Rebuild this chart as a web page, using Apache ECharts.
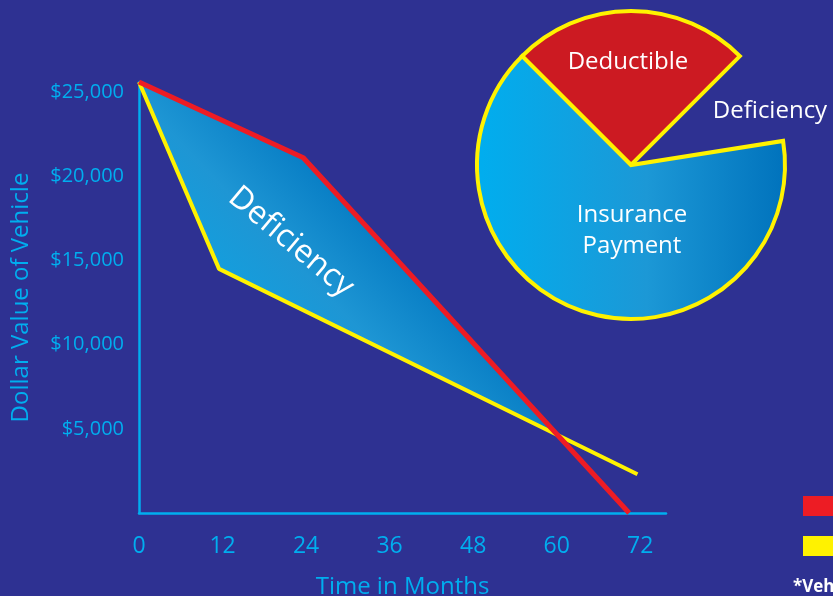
<!DOCTYPE html>
<html>
<head>
<meta charset="utf-8">
<script src="https://cdn.jsdelivr.net/npm/echarts@6/dist/echarts.min.js"></script>
<style>
html,body{margin:0;padding:0;background:#2E3192;}
#chart{width:833px;height:596px;}
</style>
</head>
<body>
<div id="chart"></div>
<script>
// ---- data ----
const xTicks = [0, 12, 24, 36, 48, 60, 72];
const yTicks = [5000, 10000, 15000, 20000, 25000];
const loanBalance = [[0, 25600], [23.6, 21100], [70.4, 0]];      // red
const vehicleValue = [[0, 25600], [11.5, 14500], [71.6, 2300]];   // yellow
const pieNames = ['Deductible', 'Deficiency', 'Insurance Payment'];
const pieValues = [25, 10, 65];
const legendNames = ['Loan Balance', 'Vehicle Value*'];

const FONT = '"Open Sans", "Noto Sans", sans-serif';
const CYAN = '#00AEEF';
const RED = '#ED1C24';
const YELLOW = '#FFF200';

function intersect(a, b, c, d) {
  const den = (a[0]-b[0])*(c[1]-d[1]) - (a[1]-b[1])*(c[0]-d[0]);
  const t = ((a[0]-c[0])*(c[1]-d[1]) - (a[1]-c[1])*(c[0]-d[0])) / den;
  return [a[0] + t*(b[0]-a[0]), a[1] + t*(b[1]-a[1])];
}

const pieStyles = [
  { color: '#CC1A22' },
  { color: 'rgba(0,0,0,0)', borderWidth: 0 },
  {
    color: new echarts.graphic.LinearGradient(0, 0, 1, 0, [
      { offset: 0, color: '#00AEEF' },
      { offset: 0.55, color: '#1C98D6' },
      { offset: 1, color: '#0072BC' }
    ])
  }
];

const chart = echarts.init(document.getElementById('chart'));
const option = {
  backgroundColor: '#2E3192',
  animation: false,
  grid: { left: 139, right: 167, top: 82, bottom: 83, containLabel: false, outerBoundsMode: 'none' },
  legend: {
    orient: 'vertical', left: 803, top: 496, padding: 0,
    itemWidth: 40, itemHeight: 20, itemGap: 20, icon: 'rect',
    data: legendNames,
    textStyle: { color: '#fff', fontFamily: FONT, fontSize: 15 }
  },
  xAxis: {
    type: 'value', min: 0, max: 75.7, interval: 12,
    name: 'Time in Months', nameLocation: 'middle', nameGap: 62,
    nameTextStyle: { color: CYAN, fontSize: 24, fontFamily: FONT },
    axisLine: { show: true, lineStyle: { color: CYAN, width: 2.5 } },
    axisTick: { show: false },
    splitLine: { show: false },
    axisLabel: {
      color: CYAN, fontSize: 23, fontFamily: FONT, margin: 22,
      showMaxLabel: false,
      formatter: v => xTicks.indexOf(v) >= 0 ? String(v) : ''
    }
  },
  yAxis: {
    type: 'value', min: 0, max: 25600, interval: 5000,
    name: 'Dollar Value of Vehicle', nameLocation: 'middle', nameGap: 106,
    nameTextStyle: { color: CYAN, fontSize: 24, fontFamily: FONT },
    axisLine: { show: true, lineStyle: { color: CYAN, width: 2.5 } },
    axisTick: { show: false },
    splitLine: { show: false },
    axisLabel: {
      color: CYAN, fontSize: 20, fontFamily: FONT, margin: 15,
      showMaxLabel: false,
      formatter: v => yTicks.indexOf(v) >= 0 ? '$' + v.toLocaleString('en-US') : ''
    }
  },
  series: [
    {
      type: 'custom', coordinateSystem: 'cartesian2d', silent: true, z: 1,
      data: [[0, 0]],
      renderItem: function (params, api) {
        const r = loanBalance.map(p => api.coord(p));
        const y = vehicleValue.map(p => api.coord(p));
        const X = intersect(r[1], r[2], y[1], y[2]);
        return {
          type: 'polygon',
          shape: { points: [r[0], r[1], X, y[1]] },
          style: {
            fill: new echarts.graphic.LinearGradient(0, 0.85, 0.75, 0, [
              { offset: 0, color: '#00AEEF' },
              { offset: 0.45, color: '#1E96D4' },
              { offset: 0.62, color: '#0A80C6' },
              { offset: 1, color: '#0072BC' }
            ])
          }
        };
      }
    },
    {
      name: legendNames[1], type: 'line', data: vehicleValue, z: 3,
      symbol: 'none', color: YELLOW,
      lineStyle: { color: YELLOW, width: 4 }
    },
    {
      name: legendNames[0], type: 'line', data: loanBalance, z: 4,
      symbol: 'none', color: RED,
      lineStyle: { color: RED, width: 5 }
    },
    {
      type: 'pie', center: [631, 165], radius: 154, startAngle: 135,
      clockwise: true, silent: true, z: 5,
      data: pieNames.map((n, i) => ({ name: n, value: pieValues[i], itemStyle: pieStyles[i] })),
      itemStyle: { borderColor: YELLOW, borderWidth: 4, borderJoin: 'miter' },
      label: {
        show: true, position: 'inside', color: '#fff',
        fontFamily: FONT, fontSize: 24, lineHeight: 31,
        formatter: p => p.name === 'Insurance Payment' ? 'Insurance\nPayment' : p.name
      },
      labelLine: { show: false },
      labelLayout: function (params) {
        const pos = [[628, 62], [770, 111], [632, 231]];
        const p = pos[params.dataIndex];
        return { x: p[0], y: p[1], align: 'center', verticalAlign: 'middle' };
      }
    }
  ],
  graphic: [
    {
      type: 'text', x: 291, y: 242, rotation: -40 * Math.PI / 180, z: 10,
      style: {
        text: 'Deficiency', fill: '#fff', font: '32px ' + FONT,
        align: 'center', verticalAlign: 'middle'
      }
    },
    {
      type: 'text', left: 793, top: 579, z: 10,
      style: {
        text: '*Vehicle value depreciation estimate', fill: '#fff',
        font: 'bold 17px ' + FONT
      }
    }
  ]
};
chart.setOption(option);
</script>
</body>
</html>
